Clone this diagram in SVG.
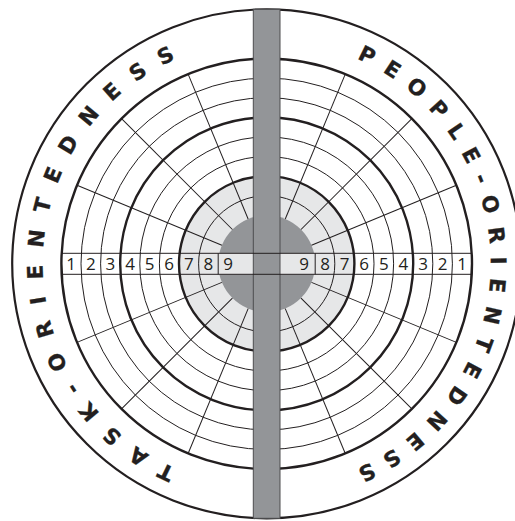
<svg xmlns="http://www.w3.org/2000/svg" xmlns:xlink="http://www.w3.org/1999/xlink" width="515" height="521" viewBox="0 0 515 521">
<defs>
<style>
.thin{fill:none;stroke:#231f20;stroke-width:1}
.bold{fill:none;stroke:#231f20;stroke-width:2.4}
.outer{fill:none;stroke:#231f20;stroke-width:2.2}
.num{font-family:"Open Sans","Liberation Sans",sans-serif;font-size:17px;fill:#231f20;text-anchor:middle}
.arc{font-family:"DejaVu Sans",sans-serif;font-weight:bold;font-size:21.5px;fill:#231f20;stroke:#231f20;stroke-width:0.3}
</style>
<path id="leftArc" d="M266.7,487.8 A224,224 0 0 1 266.7,39.8"/>
<path id="rightArc" d="M266.7,39.8 A224,224 0 0 1 266.7,487.8"/>
<line id="spoke" x1="48.5" y1="0" x2="205.3" y2="0"/>
</defs>
<rect width="515" height="521" fill="#ffffff"/>
<g id="target">
<circle cx="266.7" cy="263.8" r="87.7" fill="#e6e7e8"/>
<circle cx="266.7" cy="263.8" r="48.5" fill="#939598"/>
<rect id="strip-fill-white" x="61.4" y="253.3" width="410.6" height="21" fill="#ffffff"/>
<rect id="strip-fill-grey" x="179" y="253.3" width="175.4" height="21" fill="#e6e7e8"/>
<g id="rings">
<circle class="thin" cx="266.7" cy="263.8" r="68.1"/>
<circle class="bold" cx="266.7" cy="263.8" r="87.7"/>
<circle class="thin" cx="266.7" cy="263.8" r="107.3"/>
<circle class="thin" cx="266.7" cy="263.8" r="126.9"/>
<circle class="bold" cx="266.7" cy="263.8" r="146.5"/>
<circle class="thin" cx="266.7" cy="263.8" r="166.1"/>
<circle class="thin" cx="266.7" cy="263.8" r="185.7"/>
<circle class="bold" cx="266.7" cy="263.8" r="205.3"/>
<circle class="outer" cx="266.7" cy="263.8" r="254.5"/>
</g>
<g id="spokes" class="thin" transform="translate(266.7,263.8)">
<use xlink:href="#spoke" transform="rotate(22.5)"/>
<use xlink:href="#spoke" transform="rotate(45)"/>
<use xlink:href="#spoke" transform="rotate(67.5)"/>
<use xlink:href="#spoke" transform="rotate(112.5)"/>
<use xlink:href="#spoke" transform="rotate(135)"/>
<use xlink:href="#spoke" transform="rotate(157.5)"/>
<use xlink:href="#spoke" transform="rotate(202.5)"/>
<use xlink:href="#spoke" transform="rotate(225)"/>
<use xlink:href="#spoke" transform="rotate(247.5)"/>
<use xlink:href="#spoke" transform="rotate(292.5)"/>
<use xlink:href="#spoke" transform="rotate(315)"/>
<use xlink:href="#spoke" transform="rotate(337.5)"/>
</g>
<g id="strip-dividers" class="thin">
<line x1="218.2" y1="253.3" x2="218.2" y2="274.3"/>
<line x1="315.2" y1="253.3" x2="315.2" y2="274.3"/>
</g>
</g>
<g id="bar">
<rect x="253.3" y="9.3" width="26.7" height="509" fill="#939598" stroke="#4d4d4f" stroke-width="1"/>
</g>
<g id="strip-lines" class="thin">
<line x1="61.4" y1="253.3" x2="472" y2="253.3"/>
<line x1="61.4" y1="274.3" x2="472" y2="274.3"/>
</g>
<g id="left-scale" class="num">
<text x="71.2" y="270.3">1</text>
<text x="90.8" y="270.3">2</text>
<text x="110.4" y="270.3">3</text>
<text x="130" y="270.3">4</text>
<text x="149.6" y="270.3">5</text>
<text x="169.2" y="270.3">6</text>
<text x="188.8" y="270.3">7</text>
<text x="208.4" y="270.3">8</text>
<text x="228" y="270.3">9</text>
</g>
<g id="right-scale" class="num">
<text x="304" y="270.3">9</text>
<text x="325" y="270.3">8</text>
<text x="344.6" y="270.3">7</text>
<text x="364.2" y="270.3">6</text>
<text x="383.8" y="270.3">5</text>
<text x="403.4" y="270.3">4</text>
<text x="423" y="270.3">3</text>
<text x="442.6" y="270.3">2</text>
<text x="462.2" y="270.3">1</text>
</g>
<g id="label-task">
<text class="arc"><textPath xlink:href="#leftArc" startOffset="50%" text-anchor="middle" textLength="516" lengthAdjust="spacing">TASK-ORIENTEDNESS</textPath></text>
</g>
<g id="label-people">
<text class="arc"><textPath xlink:href="#rightArc" startOffset="50%" text-anchor="middle" textLength="518" lengthAdjust="spacing">PEOPLE-ORIENTEDNESS</textPath></text>
</g>
</svg>
